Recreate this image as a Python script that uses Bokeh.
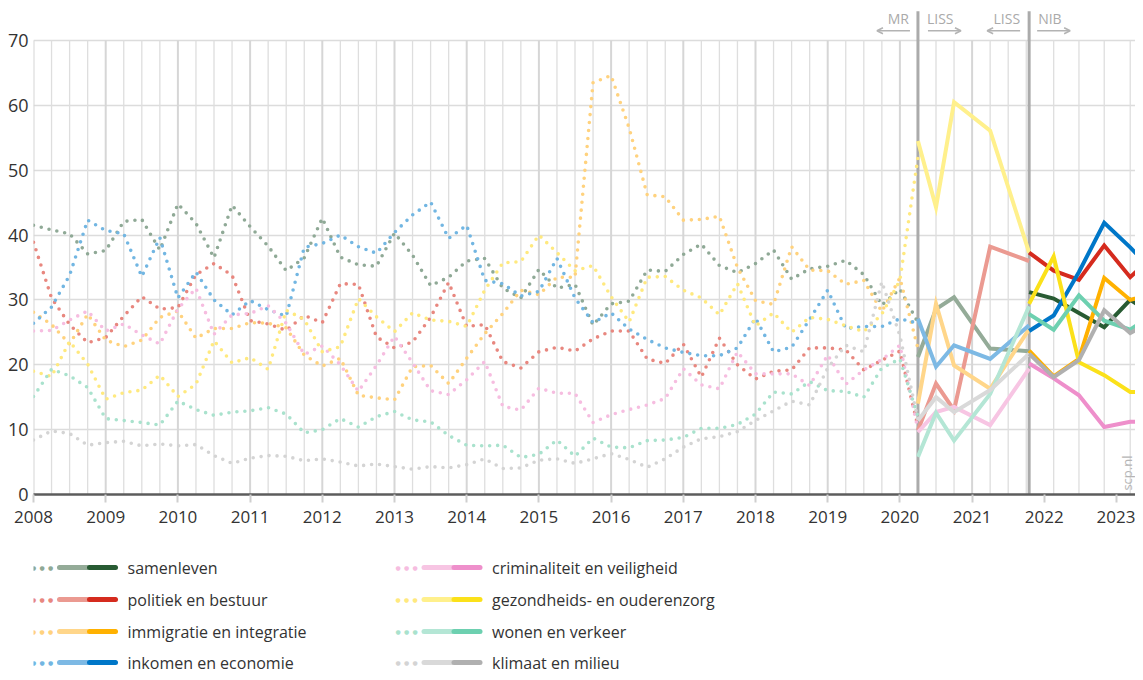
import math
from bokeh.plotting import figure
from bokeh.models import Range1d, FixedTicker, Arrow, OpenHead
from bokeh.layouts import column
from bokeh.embed import file_html
from bokeh.resources import INLINE
from bokeh.core.properties import value

# ---------------- data ----------------
# MR (quarterly, dotted): 2008 Q1 .. 2020 Q2
mr_x = [2008 + 0.25 * i for i in range(50)]

mr_samenleven = [41.5, 40.8, 40.2, 37.1, 37.6, 42.1, 42.4, 37.7, 44.8, 41.8,
                 36.5, 44.6, 41.3, 38.3, 34.5, 36.5, 42.6, 36.6, 35.4, 35.2,
                 40.3, 36.9, 32.2, 33.5, 36.0, 36.4, 31.8, 30.3, 34.7, 31.8,
                 32.4, 26.1, 29.4, 29.8, 34.6, 34.4, 37.0, 38.6, 35.3, 34.2,
                 35.6, 37.7, 33.2, 34.8, 35.2, 36.1, 33.9, 29.2, 31.7, 26.5]
mr_politiek = [38.9, 30.3, 26.2, 23.4, 24.2, 27.5, 30.5, 28.6, 28.8, 33.9,
               35.6, 33.8, 26.8, 26.3, 25.3, 27.6, 26.5, 32.5, 32.4, 24.3,
               22.6, 23.5, 27.3, 32.7, 25.9, 26.2, 20.5, 19.5, 22.0, 22.7,
               22.1, 24.0, 25.2, 25.2, 20.9, 20.2, 23.2, 18.1, 24.1, 20.0,
               17.8, 19.0, 19.2, 22.6, 22.6, 22.3, 19.2, 20.7, 22.1, 10.5]
mr_immigratie = [28.1, 26.2, 23.2, 27.8, 23.8, 22.8, 23.8, 27.3, 28.3, 24.1,
                 25.6, 25.6, 26.5, 26.4, 25.7, 21.5, 19.8, 21.0, 15.3, 14.9,
                 14.6, 19.7, 19.9, 17.1, 21.0, 24.8, 27.9, 31.5, 30.8, 33.5,
                 33.5, 63.5, 64.6, 56.5, 46.2, 45.9, 42.3, 42.4, 42.9, 35.0,
                 29.9, 29.3, 38.2, 34.6, 34.5, 32.4, 33.0, 28.2, 33.4, 22.5]
mr_inkomen = [26.4, 28.9, 33.8, 42.3, 40.7, 40.2, 33.6, 39.6, 30.3, 34.3,
              30.0, 27.7, 29.9, 28.5, 27.5, 38.1, 38.7, 40.0, 38.2, 37.2,
              40.4, 43.1, 45.1, 39.5, 41.5, 33.0, 32.5, 30.6, 31.3, 36.4,
              30.3, 26.5, 28.0, 25.5, 23.9, 22.6, 21.9, 21.4, 21.4, 22.6,
              27.2, 22.0, 22.7, 27.0, 31.5, 25.6, 25.9, 25.9, 27.1, 26.4]
mr_criminaliteit = [25.2, 25.3, 26.9, 28.3, 25.2, 26.3, 24.6, 23.2, 28.6, 31.8,
                    24.7, 27.7, 27.9, 29.1, 26.4, 21.6, 22.9, 20.0, 15.9, 19.9,
                    24.4, 20.3, 16.0, 15.4, 17.7, 20.5, 13.6, 13.0, 16.4, 15.6,
                    15.6, 11.1, 12.3, 13.1, 13.8, 14.8, 19.4, 16.9, 16.3, 22.0,
                    18.6, 18.6, 18.6, 16.8, 21.5, 17.0, 19.2, 20.8, 23.0, 10.0]
mr_gezondheid = [19.0, 18.2, 23.6, 20.1, 14.7, 15.7, 16.1, 18.4, 15.1, 17.0,
                 23.7, 20.3, 21.1, 19.3, 28.4, 27.0, 22.0, 22.8, 30.2, 27.4,
                 25.1, 28.0, 26.9, 26.7, 25.9, 31.5, 35.7, 35.9, 40.0, 37.3,
                 34.5, 35.3, 30.5, 26.6, 33.5, 33.6, 31.5, 30.3, 27.7, 32.5,
                 26.0, 28.0, 25.0, 27.3, 27.0, 26.0, 25.1, 27.8, 33.0, 52.0]
mr_wonen = [15.1, 19.3, 18.3, 16.5, 11.7, 11.4, 11.1, 10.7, 14.4, 13.1,
            12.2, 12.7, 12.9, 13.4, 12.4, 9.5, 10.0, 11.7, 10.4, 12.0,
            12.8, 11.5, 11.2, 9.1, 7.6, 7.5, 7.6, 5.7, 6.2, 8.4,
            5.9, 8.7, 7.3, 7.2, 8.3, 8.4, 8.8, 10.2, 10.2, 10.8,
            12.4, 15.8, 15.5, 17.4, 16.0, 15.9, 15.0, 19.5, 20.9, 12.0]
mr_klimaat = [8.4, 9.8, 9.4, 7.6, 8.0, 8.2, 7.5, 7.8, 7.5, 7.7,
              6.0, 4.8, 5.6, 6.0, 5.9, 5.2, 5.5, 5.0, 4.4, 4.7,
              4.3, 3.9, 4.3, 4.1, 4.6, 5.5, 4.0, 4.1, 5.3, 5.5,
              4.8, 5.5, 6.3, 5.4, 4.2, 5.5, 7.3, 8.6, 8.9, 9.7,
              11.4, 12.9, 14.4, 13.8, 19.5, 23.0, 22.0, 32.8, 24.5, 11.5]

# LISS (solid, light)
liss_x = [2020.25, 2020.5, 2020.75, 2021.25, 2021.79]
liss_samenleven = [21.2, 28.6, 30.4, 22.5, 22.1]
liss_politiek = [9.9, 17.1, 13.0, 38.2, 36.0]
liss_immigratie = [14.0, 29.4, 19.9, 16.3, 25.5]
liss_inkomen = [27.1, 19.7, 23.0, 20.9, 26.1]
liss_criminaliteit = [9.6, 12.7, 13.5, 10.7, 19.4]
liss_gezondheid = [54.5, 44.3, 60.5, 56.1, 37.3]
liss_wonen = [5.8, 12.6, 8.3, 15.5, 29.0]
liss_klimaat = [11.4, 15.0, 12.7, 16.1, 21.7]

# NIB (solid, dark)
nib_x = [2021.79, 2022.13, 2022.48, 2022.83, 2023.19, 2023.53]
nib_samenleven = [31.2, 30.2, 28.0, 25.8, 30.0, 27.7]
nib_politiek = [37.3, 34.5, 33.1, 38.4, 33.5, 37.0]
nib_immigratie = [22.2, 18.2, 20.9, 33.4, 30.0, 31.0]
nib_inkomen = [25.2, 27.6, 34.3, 41.9, 38.1, 34.2]
nib_criminaliteit = [20.2, 17.9, 15.3, 10.4, 11.2, 11.3]
nib_gezondheid = [29.4, 36.7, 20.4, 18.4, 15.8, 15.8]
nib_wonen = [27.8, 25.4, 30.7, 26.8, 25.4, 28.1]
nib_klimaat = [21.7, 18.1, 20.7, 28.4, 24.9, 27.0]

labels = ["samenleven", "politiek en bestuur", "immigratie en integratie",
          "inkomen en economie", "criminaliteit en veiligheid",
          "gezondheids- en ouderenzorg", "wonen en verkeer", "klimaat en milieu"]
col_dot = ["#8fa996", "#e8877f", "#ffd27e", "#72b6e2", "#f6bde0", "#ffe97f", "#a9e2cd", "#d4d4d4"]
col_liss = ["#94ab98", "#eb9a91", "#ffd68a", "#7db9e4", "#f7c5e3", "#fff08c", "#b4e6d5", "#d9d9d9"]
col_nib = ["#285b33", "#d52b1e", "#ffb100", "#0077c8", "#ee8fcb", "#fbe11a", "#6dd0b0", "#b0b0b0"]

mr_all = [mr_samenleven, mr_politiek, mr_immigratie, mr_inkomen,
          mr_criminaliteit, mr_gezondheid, mr_wonen, mr_klimaat]
liss_all = [liss_samenleven, liss_politiek, liss_immigratie, liss_inkomen,
            liss_criminaliteit, liss_gezondheid, liss_wonen, liss_klimaat]
nib_all = [nib_samenleven, nib_politiek, nib_immigratie, nib_inkomen,
           nib_criminaliteit, nib_gezondheid, nib_wonen, nib_klimaat]

years = list(range(2008, 2024))
y_ticks = [0, 10, 20, 30, 40, 50, 60, 70]

# ---------------- layout ----------------
FONT = "Open Sans"
W = 1135
H_MAIN = 540
H_LEG = 132
BORDER_L = 33
PPY = 72.2                      # pixels per year (as in the original)
X_START = 2008.0
X_END = X_START + (W - BORDER_L) / PPY
Y_START, Y_END = 0.0, 74.62

p = figure(width=W, height=H_MAIN,
           x_range=Range1d(X_START, X_END), y_range=Range1d(Y_START, Y_END),
           output_backend="svg", toolbar_location=None,
           min_border_left=BORDER_L, min_border_right=0,
           min_border_top=10, min_border_bottom=46)
p.outline_line_color = None
p.background_fill_color = "white"
p.xgrid.visible = False
p.ygrid.ticker = FixedTicker(ticks=y_ticks)
p.ygrid.grid_line_color = "#dcdcdc"
p.ygrid.grid_line_width = 1.5

# axes
p.xaxis.ticker = FixedTicker(ticks=years)
p.xaxis.major_label_overrides = {y: str(y) for y in years}
p.xaxis.axis_line_color = "#5c5c5c"
p.xaxis.axis_line_width = 2.5
p.xaxis.major_tick_line_color = "#cfcfcf"
p.xaxis.major_tick_line_width = 2
p.xaxis.major_tick_out = 8
p.xaxis.major_tick_in = 0
p.xaxis.minor_tick_line_color = None
p.xaxis.major_label_standoff = 8
p.xaxis.major_label_text_font = FONT
p.xaxis.major_label_text_font_size = "17px"
p.xaxis.major_label_text_color = "#333333"

p.yaxis.ticker = FixedTicker(ticks=y_ticks)
p.yaxis.major_label_overrides = {t: str(t) for t in y_ticks}
p.yaxis.axis_line_color = None
p.yaxis.major_tick_line_color = None
p.yaxis.minor_tick_line_color = None
p.yaxis.major_tick_out = 0
p.yaxis.major_tick_in = 0
p.yaxis.major_label_standoff = 5
p.yaxis.major_label_text_font = FONT
p.yaxis.major_label_text_font_size = "18px"
p.yaxis.major_label_text_color = "#333333"

# vertical grid lines: quarters up to the NIB switch, then at NIB waves
q_lines = [x for x in mr_x] + [2020.5, 2020.75, 2021.0, 2021.25, 2021.5, 2021.75]
q_lines = [x for x in q_lines if abs(x - round(x)) > 1e-6]
y_lines = [float(y) for y in years if y <= 2021]
n_lines = [x for x in nib_x[1:] if x < X_END]
p.segment(x0=q_lines + n_lines, y0=0, x1=q_lines + n_lines, y1=70,
          line_color="#dedede", line_width=1.3)
p.segment(x0=y_lines, y0=0, x1=y_lines, y1=70, line_color="#d6d6d6", line_width=2)

# survey separators
sep1, sep2 = liss_x[0], nib_x[0]
p.segment(x0=[sep1, sep2], y0=0, x1=[sep1, sep2], y1=74.5,
          line_color="#ababab", line_width=3)

hdr_y, arr_y = 73.4, 71.5
p.text(x=[sep1, sep2], y=[hdr_y, hdr_y], text=["MR", "LISS"], x_offset=-9,
       text_align="right", text_baseline="middle", text_color="#aaaaaa",
       text_font=value(FONT), text_font_size="14px")
p.text(x=[sep1, sep2], y=[hdr_y, hdr_y], text=["LISS", "NIB"], x_offset=9,
       text_align="left", text_baseline="middle", text_color="#aaaaaa",
       text_font=value(FONT), text_font_size="14px")
for s, d0, d1 in [(sep1, -8, -41), (sep1, 10, 43), (sep2, -9, -42), (sep2, 8, 41)]:
    p.add_layout(Arrow(end=OpenHead(size=6, line_color="#b3b3b3", line_width=1.5),
                       x_start=s + d0 / PPY, y_start=arr_y,
                       x_end=s + d1 / PPY, y_end=arr_y,
                       line_color="#b3b3b3", line_width=1.5))

# data lines
for ys, c in zip(mr_all, col_dot):
    p.line(mr_x, ys, line_color=c, line_width=3.6, line_dash="0 8", line_cap="round")
for ys, c in zip(liss_all, col_liss):
    p.line(liss_x, ys, line_color=c, line_width=4, line_join="miter")
for ys, c in zip(nib_all, col_nib):
    p.line(nib_x, ys, line_color=c, line_width=4, line_join="miter")

# source mark
p.text(x=[X_END], y=[0.6], text=["scp.nl"], angle=math.pi / 2, x_offset=-9,
       text_align="left", text_baseline="middle", text_color="#b5b5b5",
       text_font=value(FONT), text_font_size="13px")

# ---------------- legend ----------------
# legend frame is aligned with the chart frame, so use the same left border
TOP = H_MAIN
leg = figure(width=W, height=H_LEG, x_range=Range1d(BORDER_L, W),
             y_range=Range1d(TOP + H_LEG, TOP), output_backend="svg",
             toolbar_location=None, x_axis_type=None, y_axis_type=None,
             min_border_left=BORDER_L, min_border_right=0,
             min_border_top=0, min_border_bottom=0)
leg.outline_line_color = None
leg.grid.visible = False

row_y = [567, 599, 631, 662]
col_x = [33, 397.5]
for i, lab in enumerate(labels):
    cx = col_x[i // 4]
    ry = row_y[i % 4]
    leg.text(x=[cx, cx + 8.5, cx + 17], y=[ry] * 3, text=["\u25cf"] * 3,
             text_align="center", text_baseline="middle", text_color=col_dot[i],
             text_font=value("DejaVu Sans"), text_font_size="6px")
    leg.segment(x0=[cx + 26], y0=[ry], x1=[cx + 54], y1=[ry],
                line_color=col_liss[i], line_width=5, line_cap="round")
    leg.segment(x0=[cx + 56], y0=[ry], x1=[cx + 82], y1=[ry],
                line_color=col_nib[i], line_width=5, line_cap="round")
    leg.text(x=[cx + 94], y=[ry], text=[lab], text_align="left",
             text_baseline="middle", text_color="#333333",
             text_font=value(FONT), text_font_size="16px")

layout = column(p, leg)
open("out.html", "w").write(file_html(layout, INLINE))
